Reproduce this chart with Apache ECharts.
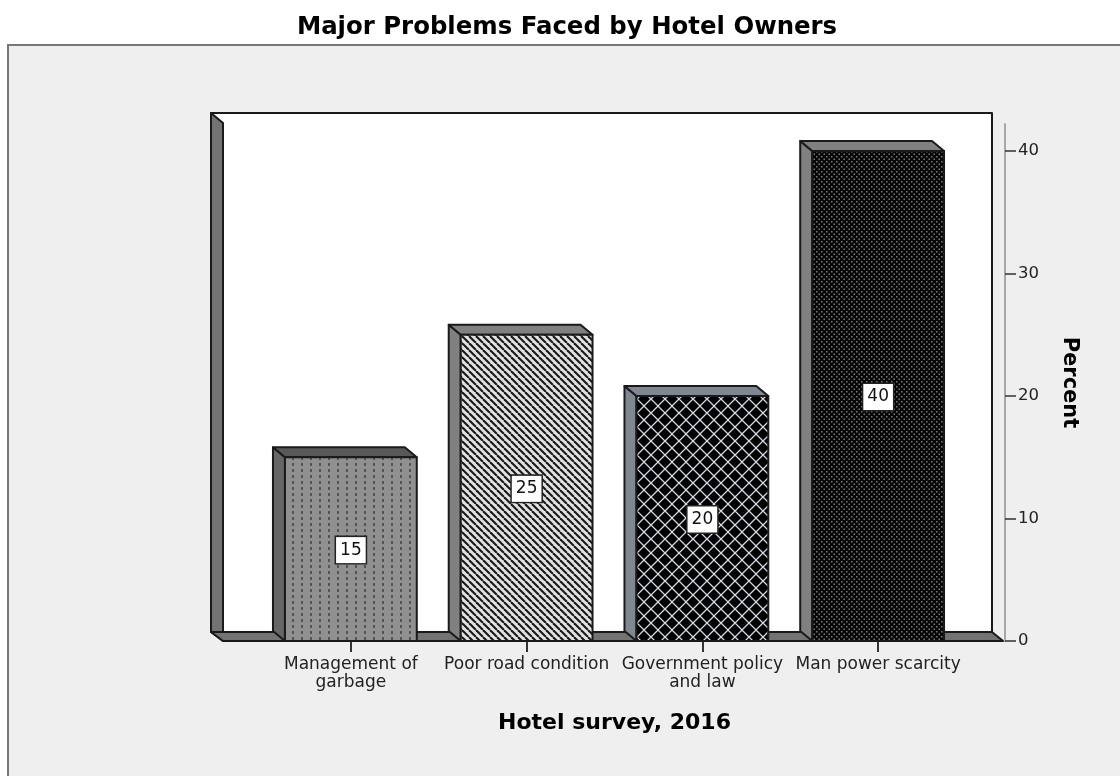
<!DOCTYPE html>
<html>
<head>
<meta charset="utf-8">
<style>html,body{margin:0;padding:0;background:#fff}#c{width:1120px;height:776px}</style>
<script src="https://cdn.jsdelivr.net/npm/echarts@6/dist/echarts.min.js"></script>
</head>
<body>
<div id="c"></div>
<script>
const titleText = 'Major Problems Faced by Hotel Owners';
const xName = 'Hotel survey, 2016';
const yName = 'Percent';
const categories = ['Management of\ngarbage', 'Poor road condition', 'Government policy\nand law', 'Man power scarcity'];
const values = [15, 25, 20, 40];
const yTicks = [0, 10, 20, 30, 40];
const sideColors = ['#666666', '#808080', '#7f8791', '#808080'];
const topColors = ['#585858', '#808080', '#7f8791', '#808080'];

const FONT = '"DejaVu Sans"';
const DEPTH_X = 12, DEPTH_Y = 10, BAR_FRAC = 0.75;

function makeCanvas(w, h, bg, draw) {
  const c = document.createElement('canvas');
  c.width = w; c.height = h;
  const g = c.getContext('2d');
  g.fillStyle = bg; g.fillRect(0, 0, w, h);
  draw(g);
  return { image: c, repeat: 'repeat' };
}
const fills = [
  makeCanvas(9, 6, '#909090', g => { g.fillStyle = '#555555'; g.fillRect(4, 1, 2, 3); }),
  makeCanvas(7, 7, '#e2e2e2', g => {
    g.strokeStyle = '#1a1a1a'; g.lineWidth = 2.1;
    for (let i = -7; i <= 7; i += 7) { g.beginPath(); g.moveTo(i, 0); g.lineTo(i + 7, 7); g.stroke(); }
  }),
  makeCanvas(14, 14, '#000', g => {
    g.strokeStyle = '#d4dae6'; g.lineWidth = 1.25;
    g.beginPath(); g.moveTo(0, 0); g.lineTo(14, 14); g.moveTo(14, 0); g.lineTo(0, 14); g.stroke();
  }),
  makeCanvas(5, 5, '#060606', g => {
    g.fillStyle = '#7a7a7a';
    g.fillRect(1, 1, 1.5, 1.5); g.fillRect(3.5, 3.5, 1.5, 1.5);
  })
];

const line = { stroke: '#1a1a1a', lineWidth: 2, lineJoin: 'round' };

function renderFrame(params, api) {
  const base = api.coord([0, 0]);
  const fl = base[1];
  const L = 223, R = 1003, topY = 113;
  const backL = L - DEPTH_X, backR = 992, backB = fl - 9;
  return {
    type: 'group',
    children: [
      { type: 'rect', shape: { x: 8, y: 45, width: 1130, height: 760 },
        style: { fill: '#efefef', stroke: '#777777', lineWidth: 2 } },
      { type: 'rect', shape: { x: backL, y: topY, width: backR - backL, height: backB - topY },
        style: Object.assign({ fill: '#ffffff' }, line) },
      { type: 'polygon', shape: { points: [[backL, topY], [L, topY + DEPTH_Y], [L, fl], [backL, backB]] },
        style: Object.assign({ fill: '#737373' }, line) },
      { type: 'polygon', shape: { points: [[backL, backB], [backR, backB], [R, fl], [L, fl]] },
        style: Object.assign({ fill: '#737373' }, line) }
    ]
  };
}

function renderBar(params, api) {
  const i = api.value(0);
  const v = api.value(1);
  const top = api.coord([i, v]);
  const bot = api.coord([i, 0]);
  const mid = api.coord([i, v / 2]);
  const w = api.size([1, 0])[0] * BAR_FRAC;
  const x0 = top[0] - w / 2, x1 = top[0] + w / 2;
  const t = top[1], b = bot[1];
  return {
    type: 'group',
    children: [
      { type: 'polygon', shape: { points: [[x0 - DEPTH_X, t - DEPTH_Y], [x0, t], [x0, b], [x0 - DEPTH_X, b - DEPTH_Y]] },
        style: Object.assign({ fill: sideColors[i] }, line) },
      { type: 'polygon', shape: { points: [[x0 - DEPTH_X, t - DEPTH_Y], [x1 - DEPTH_X, t - DEPTH_Y], [x1, t], [x0, t]] },
        style: Object.assign({ fill: topColors[i] }, line) },
      { type: 'rect', shape: { x: x0, y: t, width: w, height: b - t },
        style: Object.assign({ fill: fills[i] }, line) },
      { type: 'text', x: mid[0], y: mid[1] + 1, z2: 10,
        style: { text: String(v), fill: '#111', font: '17px ' + FONT, align: 'center', verticalAlign: 'middle',
          backgroundColor: '#fff', borderColor: '#222', borderWidth: 1.5, padding: [5, 4, 4, 4] } }
    ]
  };
}

const chart = echarts.init(document.getElementById('c'), null, { renderer: 'canvas' });
chart.setOption({
  animation: false,
  backgroundColor: '#ffffff',
  title: {
    text: titleText, left: 562, top: 11, textAlign: 'center',
    textStyle: { fontFamily: FONT, fontWeight: 'bold', fontSize: 24.4, color: '#000' }
  },
  grid: { left: 263, width: 703, top: 124, height: 517 },
  xAxis: {
    type: 'category', data: categories,
    name: xName, nameLocation: 'middle', nameGap: 71,
    nameTextStyle: { fontFamily: FONT, fontWeight: 'bold', fontSize: 22, color: '#000' },
    axisLine: { show: false },
    axisTick: { show: true, alignWithLabel: true, length: 11, lineStyle: { color: '#333', width: 2 } },
    axisLabel: { interval: 0, margin: 15, fontFamily: FONT, fontSize: 17, lineHeight: 18, color: '#222', hideOverlap: false },
    splitLine: { show: false }
  },
  yAxis: {
    type: 'value', position: 'right', offset: 39, min: 0, max: 42.2,
    name: yName, nameLocation: 'middle', nameRotate: -90, nameGap: 54,
    nameTextStyle: { fontFamily: FONT, fontWeight: 'bold', fontSize: 21, color: '#000' },
    axisLine: { show: true, lineStyle: { color: '#a8a8a8', width: 2 } },
    axisTick: { show: true, length: 11, customValues: yTicks, lineStyle: { color: '#333', width: 1.5 } },
    axisLabel: { margin: 13, customValues: yTicks, fontFamily: FONT, fontSize: 16.5, color: '#222', padding: [4, 0, 0, 0] },
    splitLine: { show: false }
  },
  series: [
    { type: 'custom', name: 'frame', z: -1, silent: true, clip: false, coordinateSystem: 'cartesian2d',
      encode: { x: 0, y: 1 }, data: [[0, 0]], renderItem: renderFrame },
    { type: 'custom', name: 'Percent', z: 2, clip: false, coordinateSystem: 'cartesian2d',
      encode: { x: 0, y: 1 }, data: values.map((v, i) => [i, v]), renderItem: renderBar }
  ]
});
</script>
</body>
</html>
